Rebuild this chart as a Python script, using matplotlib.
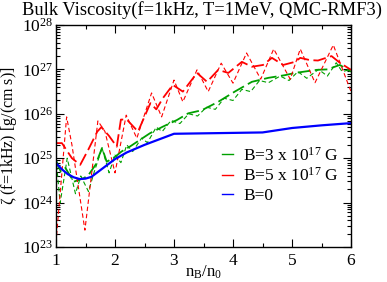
import matplotlib
matplotlib.use('Agg')
import matplotlib.pyplot as plt
from matplotlib.lines import Line2D
from matplotlib import ticker
import numpy

plt.rcParams['font.family'] = ['Liberation Serif', 'DejaVu Serif']
plt.rcParams['mathtext.fontset'] = 'custom'
plt.rcParams['mathtext.rm'] = 'Liberation Serif'
plt.rcParams['mathtext.it'] = 'Liberation Serif:italic'
plt.rcParams['mathtext.default'] = 'regular'

# data: n_B/n_0 and log10(zeta)
blue_x = [1.0, 1.1, 1.2, 1.3, 1.4, 1.5, 1.6, 1.8, 2.0, 2.2, 2.5, 2.8, 3.0,
          3.5, 4.0, 4.5, 5.0, 5.5, 6.0]
blue_log = [24.89, 24.75, 24.64, 24.57, 24.53, 24.54, 24.58, 24.78, 24.98,
            25.13, 25.30, 25.45, 25.55, 25.56, 25.57, 25.58, 25.68, 25.74, 25.79]

red_x = [1.0, 1.1, 1.27, 1.41, 1.55, 1.7, 1.77, 1.9, 2.03, 2.1, 2.2, 2.39,
         2.6, 2.7, 2.81, 2.98, 3.15, 3.39, 3.56, 3.75, 3.92, 4.15, 4.32, 4.51,
         4.66, 4.85, 5.05, 5.14, 5.3, 5.44, 5.67, 5.81, 6.0]
red_log = [25.34, 25.34, 25.0, 24.85, 25.2, 25.6, 25.7, 25.5, 25.26, 25.87,
           25.87, 25.6, 26.24, 26.1, 26.35, 26.65, 26.5, 26.92, 26.72, 26.99,
           26.92, 27.17, 27.06, 27.1, 27.26, 27.1, 27.17, 27.26, 27.21, 27.2,
           27.3, 27.15, 26.99]

red2_x = [1.0, 1.18, 1.27, 1.49, 1.71, 1.83, 2.0, 2.19, 2.37, 2.62, 2.79, 3.0,
          3.15, 3.39, 3.58, 3.8, 4.0, 4.23, 4.47, 4.69, 4.97, 5.14, 5.39,
          5.70, 6.0]
red2_log = [23.1, 25.93, 25.3, 23.38, 25.84, 25.6, 24.67, 25.97, 25.45, 26.47,
            25.93, 26.76, 26.27, 26.99, 26.5, 27.14, 26.69, 27.37, 26.78,
            27.46, 26.78, 27.46, 26.70, 27.55, 26.5]

green_x = [1.0, 1.08, 1.16, 1.3, 1.47, 1.55, 1.67, 1.78, 1.86, 2.0, 2.11,
           2.25, 2.42, 2.59, 2.81, 3.05, 3.24, 3.47, 3.75, 4.03, 4.32, 4.6,
           4.88, 5.05, 5.42, 5.6, 5.81, 6.0]
green_log = [24.95, 24.7, 24.78, 24.47, 24.55, 24.62, 24.85, 25.23, 24.92,
             25.03, 25.15, 25.26, 25.41, 25.56, 25.71, 25.86, 26.01, 26.08,
             26.27, 26.5, 26.72, 26.81, 26.87, 26.92, 26.99, 27.0, 27.1, 26.95]

green2_x = [1.0, 1.07, 1.19, 1.33, 1.42, 1.55, 1.65, 1.78, 1.9, 2.0, 2.1, 2.2,
            2.3, 2.45, 2.55, 2.7, 2.8, 2.95, 3.1, 3.25, 3.4, 3.55, 3.7, 3.85,
            4.0, 4.15, 4.3, 4.45, 4.6, 4.8, 4.95, 5.1, 5.25, 5.45, 5.6, 5.75,
            5.85, 6.0]
green2_log = [25.0, 23.99, 25.0, 24.2, 24.6, 24.25, 24.7, 25.23, 24.67, 25.07,
              24.9, 25.3, 25.15, 25.45, 25.35, 25.7, 25.6, 25.85, 25.78, 26.0,
              25.95, 26.15, 26.1, 26.35, 26.3, 26.55, 26.5, 26.75, 26.7, 26.85,
              26.75, 26.95, 26.8, 27.0, 26.85, 27.15, 26.95, 27.0]

labels = ['B=3 x 10$^{17}$ G', 'B=5 x 10$^{17}$ G', 'B=0']

RED = '#ff0000'
GREEN = '#00a000'
BLUE = '#0000ff'

fig = plt.figure(figsize=(3.87, 2.82), dpi=100)
ax = fig.add_axes([56 / 387, 1 - 247 / 282, 295 / 387, 222 / 282])


def p(v):
    return 10 ** numpy.array(v)


ax.plot(green2_x, p(green2_log), color=GREEN, lw=0.8, dashes=(4, 2.5))
ax.plot(green_x, p(green_log), color=GREEN, lw=1.3, dashes=(7, 2.5))
ax.plot(red2_x, p(red2_log), color=RED, lw=0.8, dashes=(4, 2.5))
ax.plot(red_x, p(red_log), color=RED, lw=1.3, dashes=(7, 2.5))
ax.plot(blue_x, p(blue_log), color=BLUE, lw=1.6)

ax.set_yscale('log')
ax.set_xlim(1, 6)
ax.set_ylim(1e23, 1e28)
ax.xaxis.set_major_locator(ticker.MultipleLocator(1))
ax.xaxis.set_minor_locator(ticker.MultipleLocator(0.5))
ax.yaxis.set_major_locator(ticker.LogLocator(base=10, numticks=10))
ax.yaxis.set_minor_locator(ticker.LogLocator(base=10, subs=numpy.arange(2, 10), numticks=10))
ax.yaxis.set_minor_formatter(ticker.NullFormatter())
ax.tick_params(which='both', direction='in', top=True, right=True,
               labelsize=12.5, width=0.8)
ax.tick_params(which='major', length=6)
ax.tick_params(which='minor', length=3)
ax.tick_params(axis='x', pad=4)
ax.tick_params(axis='y', pad=2)
for s in ax.spines.values():
    s.set_linewidth(1.0)

ax.set_xlabel('n$_B$/n$_0$', fontsize=12)
ax.xaxis.set_label_coords(0.5, -0.075)
ax.set_ylabel('$\\zeta$ (f=1kHz) [g/(cm s)]', fontsize=11.5)
ax.yaxis.set_label_coords(-0.125, 0.5)
fig.text(0.522, 0.963, 'Bulk Viscosity(f=1kHz, T=1MeV, QMC-RMF3)',
         ha='center', va='center', fontsize=13.3)

handles = [Line2D([], [], color=GREEN, lw=1.0),
           Line2D([], [], color=RED, lw=1.0),
           Line2D([], [], color=BLUE, lw=1.0)]
ax.legend(handles, labels, loc='lower right', bbox_to_anchor=(1.0, 0.14),
          frameon=False, fontsize=12.5, handlelength=0.6, handletextpad=0.6,
          labelspacing=0.15, borderpad=0.2)

fig.savefig('out.png', dpi=100)
